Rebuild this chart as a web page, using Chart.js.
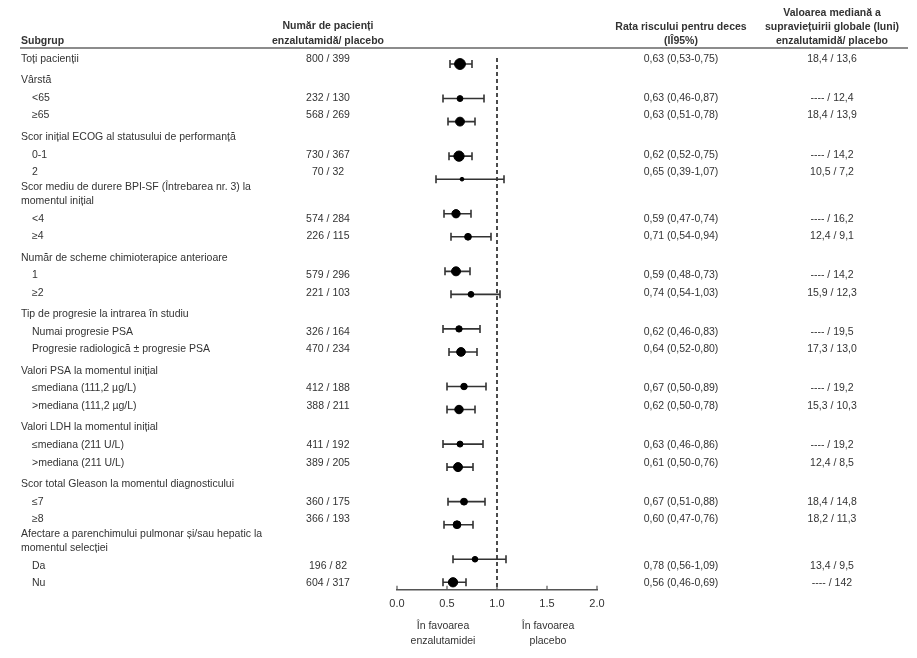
<!DOCTYPE html>
<html>
<head>
<meta charset="utf-8">
<script src="https://cdn.jsdelivr.net/npm/chart.js@4"></script>
<style>
  html, body { margin: 0; padding: 0; background: #fff; }
  #wrap { position: relative; width: 917px; height: 658px; }
</style>
</head>
<body>
<div id="wrap"><canvas id="forest"></canvas></div>
<script>
// Subgroups, in the order they appear
const subgroups = [
  "Toți pacienții", "<65", "≥65", "0-1", "2", "<4", "≥4", "1", "≥2",
  "Numai progresie PSA", "Progresie radiologică ± progresie PSA",
  "≤mediana (111,2 µg/L)", ">mediana (111,2 µg/L)",
  "≤mediana (211 U/L)", ">mediana (211 U/L)", "≤7", "≥8", "Da", "Nu"
];
const groupTitles = [
  null,
  "Vârstă",
  "Scor inițial ECOG al statusului de performanță",
  "Scor mediu de durere BPI-SF (Întrebarea nr. 3) la\nmomentul inițial",
  "Număr de scheme chimioterapice anterioare",
  "Tip de progresie la intrarea în studiu",
  "Valori PSA la momentul inițial",
  "Valori LDH la momentul inițial",
  "Scor total Gleason la momentul diagnosticului",
  "Afectare a parenchimului pulmonar și/sau hepatic la\nmomentul selecției"
];
const groupOf = [0, 1, 1, 2, 2, 3, 3, 4, 4, 5, 5, 6, 6, 7, 7, 8, 8, 9, 9];
const patients = [
  "800 / 399", "232 / 130", "568 / 269", "730 / 367", "70 / 32", "574 / 284",
  "226 / 115", "579 / 296", "221 / 103", "326 / 164", "470 / 234", "412 / 188",
  "388 / 211", "411 / 192", "389 / 205", "360 / 175", "366 / 193", "196 / 82", "604 / 317"
];
const hr     = [0.63, 0.63, 0.63, 0.62, 0.65, 0.59, 0.71, 0.59, 0.74, 0.62, 0.64, 0.67, 0.62, 0.63, 0.61, 0.67, 0.60, 0.78, 0.56];
const ciLow  = [0.53, 0.46, 0.51, 0.52, 0.39, 0.47, 0.54, 0.48, 0.54, 0.46, 0.52, 0.50, 0.50, 0.46, 0.50, 0.51, 0.47, 0.56, 0.46];
const ciHigh = [0.75, 0.87, 0.78, 0.75, 1.07, 0.74, 0.94, 0.73, 1.03, 0.83, 0.80, 0.89, 0.78, 0.86, 0.76, 0.88, 0.76, 1.09, 0.69];
const medianOS = [
  "18,4 / 13,6", "---- / 12,4", "18,4 / 13,9", "---- / 14,2", "10,5 / 7,2", "---- / 16,2",
  "12,4 / 9,1", "---- / 14,2", "15,9 / 12,3", "---- / 19,5", "17,3 / 13,0", "---- / 19,2",
  "15,3 / 10,3", "---- / 19,2", "12,4 / 8,5", "18,4 / 14,8", "18,2 / 11,3", "13,4 / 9,5", "---- / 142"
];
const xTicks = [0, 0.5, 1, 1.5, 2];

const FONT = "'Liberation Sans', Arial, sans-serif";
const TEXT = "#333";

// text rows: vertical layout of the table (units = px below the first row)
const textRows = []; // {y, text, indent}
const itemTextY = [];
(() => {
  let y = 0, prevGroup = 0;
  subgroups.forEach((name, i) => {
    const g = groupOf[i];
    if (i > 0 && g !== prevGroup) {
      const lines = groupTitles[g].split("\n");
      y += lines.length > 1 ? 15 : 21.5;
      lines.forEach((ln, k) => {
        if (k > 0) y += 14;
        textRows.push({ y, text: ln, indent: false });
      });
      y += 17.5;
    } else if (i > 0) {
      y += 17.5;
    }
    textRows.push({ y, text: name, indent: i > 0 });
    itemTextY.push(y);
    prevGroup = g;
  });
})();

// forest panel has its own spacing (pairs close together, groups apart)
const markerY = [];
(() => {
  let y = 5;
  groupOf.forEach((g, i) => {
    if (i > 0) y += g !== groupOf[i - 1] ? 34.5 : 23;
    markerY.push(y);
  });
})();

// marker size follows the precision of the estimate
const markerRadius = hr.map((v, i) => {
  const se = (Math.log(ciHigh[i]) - Math.log(ciLow[i])) / 3.92;
  return Math.min(5.5, 0.48 / se);
});

const fmt = (v) => v.toFixed(2).replace(".", ",");
const hrText = hr.map((v, i) => fmt(v) + " (" + fmt(ciLow[i]) + "-" + fmt(ciHigh[i]) + ")");

const forestPlugin = {
  id: "forest",
  beforeDatasetsDraw(chart) {
    const { ctx, scales: { x, y } } = chart;
    ctx.save();
    // reference line at HR = 1
    ctx.strokeStyle = "#111";
    ctx.lineWidth = 1.5;
    ctx.setLineDash([4, 3]);
    ctx.beginPath();
    ctx.moveTo(x.getPixelForValue(1), y.getPixelForValue(-1));
    ctx.lineTo(x.getPixelForValue(1), chart.chartArea.bottom);
    ctx.stroke();
    ctx.setLineDash([]);
    // confidence intervals
    ctx.strokeStyle = "#333";
    ctx.lineWidth = 1.6;
    hr.forEach((v, i) => {
      const py = y.getPixelForValue(markerY[i]);
      const x0 = x.getPixelForValue(ciLow[i]);
      const x1 = x.getPixelForValue(ciHigh[i]);
      ctx.beginPath();
      ctx.moveTo(x0, py); ctx.lineTo(x1, py);
      ctx.moveTo(x0, py - 4); ctx.lineTo(x0, py + 4);
      ctx.moveTo(x1, py - 4); ctx.lineTo(x1, py + 4);
      ctx.stroke();
    });
    // axis tick marks pointing up
    const bottom = chart.chartArea.bottom;
    ctx.strokeStyle = "#555";
    ctx.lineWidth = 1.2;
    xTicks.forEach((t) => {
      const px = x.getPixelForValue(t);
      ctx.beginPath();
      ctx.moveTo(px, bottom); ctx.lineTo(px, bottom - 4);
      ctx.stroke();
    });
    ctx.restore();
  },
  afterDraw(chart) {
    const { ctx, scales: { y } } = chart;
    ctx.save();
    ctx.fillStyle = TEXT;
    ctx.textBaseline = "middle";

    // header
    ctx.font = "bold 10.5px " + FONT;
    ctx.textAlign = "left";
    ctx.fillText("Subgrup", 21, 41);
    ctx.textAlign = "center";
    ctx.fillText("Număr de pacienți", 328, 26);
    ctx.fillText("enzalutamidă/ placebo", 328, 41);
    ctx.fillText("Rata riscului pentru deces", 681, 27);
    ctx.fillText("(IÎ95%)", 681, 41);
    ctx.fillText("Valoarea mediană a", 832, 13);
    ctx.fillText("supraviețuirii globale (luni)", 832, 27);
    ctx.fillText("enzalutamidă/ placebo", 832, 41);
    ctx.strokeStyle = "#666";
    ctx.lineWidth = 1.5;
    ctx.beginPath();
    ctx.moveTo(20, 48); ctx.lineTo(908, 48);
    ctx.stroke();

    // rows
    ctx.font = "10.5px " + FONT;
    ctx.textAlign = "left";
    textRows.forEach((r) => {
      ctx.fillText(r.text, r.indent ? 32 : 21, y.getPixelForValue(r.y));
    });
    ctx.textAlign = "center";
    subgroups.forEach((s, i) => {
      const py = y.getPixelForValue(itemTextY[i]);
      ctx.fillText(patients[i], 328, py);
      ctx.fillText(hrText[i], 681, py);
      ctx.fillText(medianOS[i], 832, py);
    });

    // favours labels
    ctx.fillText("În favoarea", 443, 626);
    ctx.fillText("enzalutamidei", 443, 641);
    ctx.fillText("În favoarea", 548, 626);
    ctx.fillText("placebo", 548, 641);
    ctx.restore();
  }
};

new Chart(document.getElementById("forest"), {
  type: "scatter",
  data: {
    datasets: [{
      data: hr.map((v, i) => ({ x: v, y: markerY[i] })),
      backgroundColor: "#000",
      borderColor: "#000",
      pointRadius: markerRadius,
      pointHoverRadius: markerRadius
    }]
  },
  options: {
    responsive: true,
    maintainAspectRatio: false,
    animation: false,
    layout: { padding: { left: 397, right: 320, top: 50, bottom: 39 } },
    plugins: { legend: { display: false }, tooltip: { enabled: false } },
    scales: {
      x: {
        type: "linear",
        min: 0,
        max: 2,
        afterBuildTicks: (scale) => { scale.ticks = xTicks.map((v) => ({ value: v })); },
        grid: { display: false, drawTicks: false },
        border: { display: true, color: "#555", width: 1.5 },
        ticks: {
          padding: 8,
          color: TEXT,
          font: { family: FONT, size: 11 },
          callback: (v) => v.toFixed(1)
        }
      },
      y: {
        type: "linear",
        display: false,
        reverse: true,
        min: -9,
        max: 530
      }
    }
  },
  plugins: [forestPlugin]
});
</script>
</body>
</html>
